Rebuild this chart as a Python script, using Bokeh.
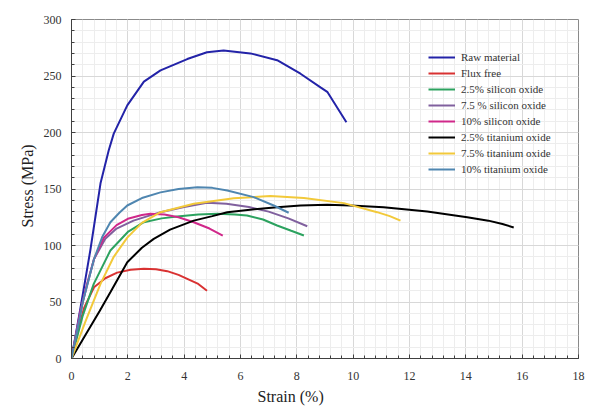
from bokeh.plotting import figure
from bokeh.models import (Range1d, SingleIntervalTicker, Legend, LegendItem, Title)
from bokeh.embed import file_html
from bokeh.resources import INLINE

# ---- data ----
raw_x = [0, 0.3, 0.67, 1.03, 1.32, 1.5, 1.98, 2.57, 3.16, 4.11, 4.81, 5.4, 6.35, 7.3, 8.13, 8.84, 9.08, 9.76]
raw_y = [0, 42, 96, 155, 184, 199, 224, 245, 255, 265, 271, 272.5, 270, 264, 252, 240, 236, 209]

flux_x = [0, 0.2, 0.45, 0.8, 1.2, 1.62, 2.1, 2.57, 3.0, 3.4, 3.8, 4.11, 4.5, 4.81]
flux_y = [0, 22, 45, 63, 71, 76, 78.5, 79.4, 79, 77.3, 74, 70.5, 66, 60]

si25_x = [0, 0.4, 0.79, 1.38, 2.0, 2.57, 3.2, 3.75, 4.5, 5.18, 5.8, 6.23, 6.8, 7.3, 7.8, 8.25]
si25_y = [0, 38, 66, 95.6, 112, 120.6, 124, 125.7, 127.5, 128, 127.5, 126.5, 123, 117.7, 113, 108.8]

si75_x = [0, 0.4, 0.8, 1.2, 1.6, 2.2, 3.16, 4.0, 4.81, 5.5, 6.3, 7.0, 7.7, 8.37]
si75_y = [0, 50, 88, 106, 115, 122, 129.5, 134, 137.8, 137, 134, 130, 124, 117]

si10_x = [0, 0.3, 0.55, 0.8, 1.15, 1.6, 2.0, 2.5, 2.8, 3.3, 3.8, 4.34, 4.9, 5.37]
si10_y = [0, 40, 66, 88, 107, 118, 123.6, 127, 128, 127.5, 125, 120.6, 115, 108.8]

ti25_x = [0, 0.5, 1.0, 1.38, 1.98, 2.5, 2.92, 3.5, 4.34, 5.0, 5.53, 6.5, 7.3, 8.13, 9.08, 9.91, 11.08, 12.63, 14.05, 14.8, 15.3, 15.7]
ti25_y = [0, 21, 42, 58.7, 85.2, 98, 105.9, 114, 122, 126, 129.5, 132, 133.9, 135.4, 136, 135.4, 133.9, 130, 125, 122, 119, 116]

ti75_x = [0, 0.5, 1.03, 1.5, 1.98, 2.5, 3.16, 4.34, 5.76, 7.06, 8.25, 9.67, 10.85, 11.3, 11.68]
ti75_y = [0, 33, 66, 90, 107, 120, 129.5, 136.9, 141.9, 143.7, 142.1, 137.5, 129.5, 126, 122]

ti10_x = [0, 0.4, 0.8, 1.1, 1.38, 1.7, 1.98, 2.5, 3.16, 3.8, 4.47, 5.0, 5.53, 6.47, 7.18, 7.71]
ti10_y = [0, 50, 88, 108, 120.6, 129, 135.4, 142, 147, 150, 151.6, 151, 148.7, 142.8, 135.4, 129]

labels = ["Raw material", "Flux free", "2.5% silicon oxide", "7.5 % silicon oxide",
          "10% silicon oxide", "2.5% titanium oxide", "7.5% titanium oxide", "10% titanium oxide"]
colors = ["#2323a8", "#d93232", "#2ca25f", "#80609e", "#d0288a", "#000000", "#f2c93a", "#4f86b0"]
series = [(raw_x, raw_y), (flux_x, flux_y), (si25_x, si25_y), (si75_x, si75_y),
          (si10_x, si10_y), (ti25_x, ti25_y), (ti75_x, ti75_y), (ti10_x, ti10_y)]

x_ticks_step = 2
y_ticks_step = 50

FONT = "Liberation Serif, Times New Roman, serif"

p = figure(width=590, height=407, output_backend="svg", toolbar_location=None,
           x_range=Range1d(0, 18), y_range=Range1d(0, 300),
           min_border_left=71, min_border_right=12, min_border_top=19, min_border_bottom=49)
p.background_fill_color = "white"
p.border_fill_color = "white"
p.outline_line_color = "#8a8a8a"
p.outline_line_width = 1

p.xaxis.ticker = SingleIntervalTicker(interval=x_ticks_step, num_minor_ticks=5)
p.yaxis.ticker = SingleIntervalTicker(interval=y_ticks_step, num_minor_ticks=5)

for ax in (p.xaxis[0], p.yaxis[0]):
    ax.axis_line_color = "#404040"
    ax.major_tick_line_color = "#404040"
    ax.minor_tick_line_color = "#404040"
    ax.major_tick_in = 4
    ax.major_tick_out = 0
    ax.minor_tick_in = 3
    ax.minor_tick_out = 0
    ax.major_label_text_font = FONT
    ax.major_label_text_font_size = "12px"
    ax.major_label_text_color = "#333333"
p.xaxis[0].major_label_standoff = 13
p.yaxis[0].major_label_standoff = 10

p.xgrid.ticker = SingleIntervalTicker(interval=x_ticks_step, num_minor_ticks=5)
p.ygrid.ticker = SingleIntervalTicker(interval=y_ticks_step, num_minor_ticks=5)
p.xgrid.grid_line_color = "#d8d8d8"
p.ygrid.grid_line_color = "#d8d8d8"
p.xgrid.minor_grid_line_color = "#ededed"
p.ygrid.minor_grid_line_color = "#ededed"

renderers = []
for (xs, ys), c in zip(series, colors):
    r = p.line(xs, ys, line_color=c, line_width=2)
    renderers.append(r)

items = [LegendItem(label=l, renderers=[r]) for l, r in zip(labels, renderers)]
legend = Legend(items=items, location=(357, 182))
legend.background_fill_alpha = 0
legend.border_line_alpha = 0
legend.padding = 0
legend.margin = 0
legend.spacing = 2
legend.glyph_width = 27
legend.glyph_height = 14
legend.label_height = 14
legend.label_standoff = 6
legend.label_text_font = FONT
legend.label_text_font_size = "11px"
legend.label_text_color = "#333333"
p.add_layout(legend)

xtitle = Title(text="Strain (%)", align="left", offset=186, standoff=6,
               text_font=FONT, text_font_size="16px", text_font_style="normal",
               text_color="#222222")
ytitle = Title(text="Stress (MPa)", align="left", offset=131, standoff=10,
               text_font=FONT, text_font_size="16px", text_font_style="normal",
               text_color="#222222")
p.add_layout(xtitle, "below")
p.add_layout(ytitle, "left")

open("out.html", "w").write(file_html(p, INLINE))
